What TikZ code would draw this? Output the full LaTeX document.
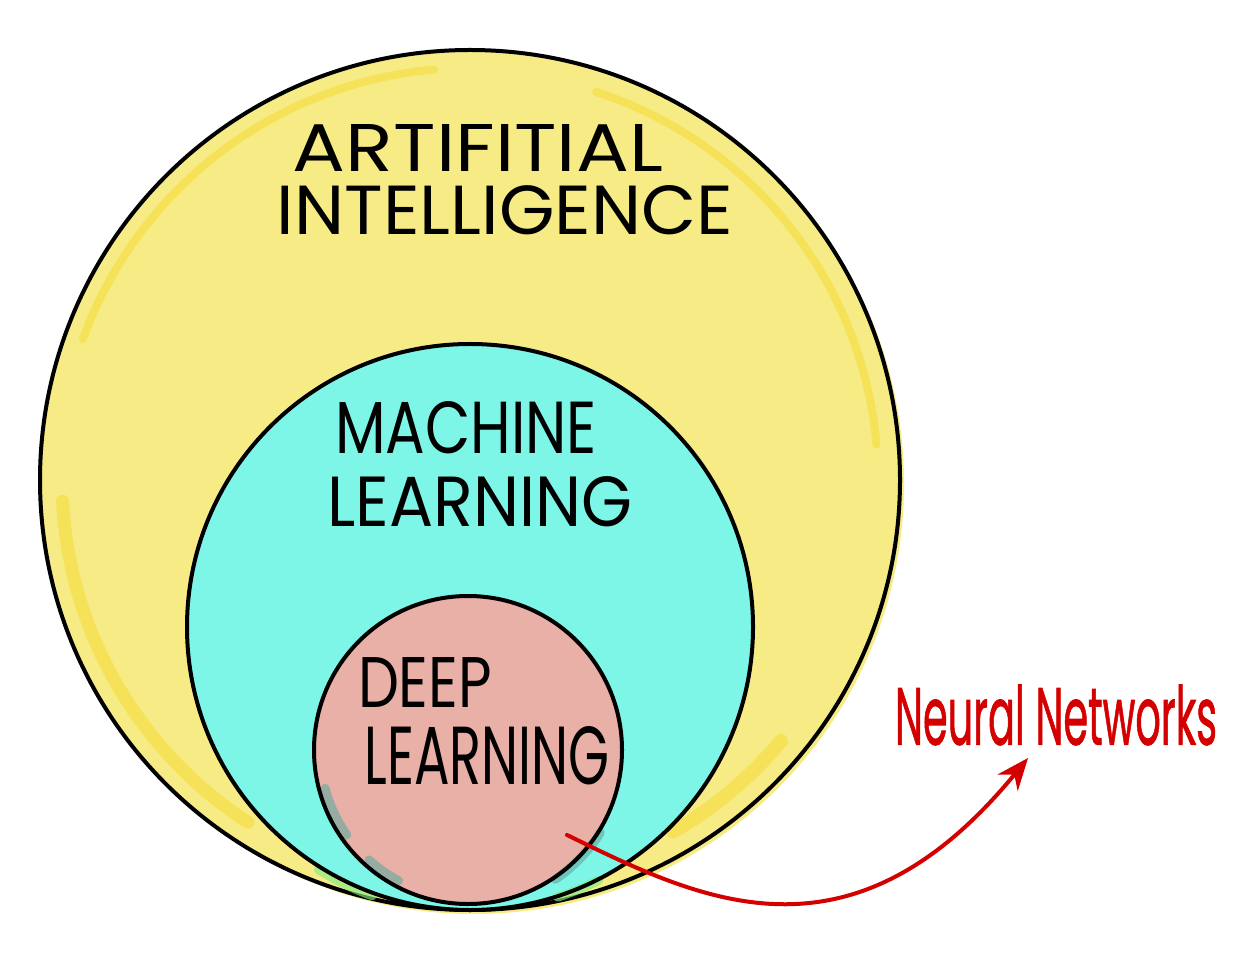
\documentclass[tikz,border=0pt]{standalone}
\usepackage{fontspec}
\usepackage{graphicx}
\usetikzlibrary{arrows.meta}
\newfontfamily\handfont{Poppins}
\newfontfamily\handboldfont[FakeBold=1.2]{Poppins}
\newcommand{\fitlab}[3]{\resizebox{#1}{#2}{\handfont #3}}
\newcommand{\fitredlab}[3]{\resizebox{#1}{#2}{\handboldfont #3}}
\definecolor{aiyellow}{HTML}{F7EB85}
\definecolor{aistreak}{HTML}{F6E04A}
\definecolor{mlcyan}{HTML}{7DF6E8}
\definecolor{dlpink}{HTML}{E8B0A6}
\definecolor{tealshade}{HTML}{69AAA0}
\definecolor{greenshade}{HTML}{82EB82}
\definecolor{nnred}{HTML}{D40000}
\tikzset{
  outline/.style={draw=black, line width=0.4mm},
  streak/.style={aistreak, line width=#1, line cap=round, opacity=0.75},
  shade/.style={#1, line width=0.9mm, line cap=round, opacity=0.65},
  lab/.style={inner sep=0pt, outer sep=0pt, text=black},
  redlab/.style={inner sep=0pt, outer sep=0pt, text=nnred},
  redarrow/.style={draw=nnred, line width=0.4mm, line cap=round,
    -{Stealth[length=3.2mm, width=2.6mm]}}
}
\begin{document}
\begin{tikzpicture}[x=0.1mm, y=-0.1mm]
\useasboundingbox (0,0) rectangle (1235,967);
% Artificial intelligence circle
\fill[aiyellow] (474,484) circle[radius=430];
\fill[aiyellow] (470,480) circle[radius=430];
\draw[streak=0.8mm] (470,480) ++(-95:412) arc[start angle=-95, end angle=-160, radius=412];
\draw[streak=0.8mm] (470,480) ++(-5:408) arc[start angle=-5, end angle=-72, radius=408];
\draw[streak=1.3mm] (470,480) ++(-183:408) arc[start angle=-183, end angle=-237, radius=408];
\draw[streak=1.4mm] (470,480) ++(60:406) arc[start angle=60, end angle=40, radius=406];
\draw[outline] (470,480) circle[radius=430];
% Machine learning circle
\fill[mlcyan] (470,627) circle[radius=283];
\draw[shade=greenshade] (470,627) ++(-238:286) arc[start angle=-238, end angle=-250, radius=286];
\draw[shade=greenshade] (470,627) ++(63:284) arc[start angle=63, end angle=72, radius=284];
\draw[outline] (470,627) circle[radius=283];
% Deep learning circle
\fill[dlpink] (468,750) circle[radius=154];
\draw[shade=tealshade] (468,750) ++(-195:148) arc[start angle=-195, end angle=-215, radius=148];
\draw[shade=tealshade] (468,750) ++(-228:148) arc[start angle=-228, end angle=-242, radius=148];
\draw[shade=tealshade] (468,750) ++(32:156) arc[start angle=32, end angle=56, radius=156];
\draw[outline] (468,750) circle[radius=154];
% labels
\node[lab] (ai1) at (478,148) {\fitlab{37mm}{4.7mm}{ARTIFITIAL}};
\node[lab] (ai2) at (505,210) {\fitlab{45.6mm}{4.9mm}{INTELLIGENCE}};
\node[lab] (ml1) at (466,428) {\fitlab{26.2mm}{5.2mm}{MACHINE}};
\node[lab] (ml2) at (480,502) {\fitlab{30.5mm}{5mm}{LEARNING}};
\node[lab] (dl1) at (425,682) {\fitlab{13.4mm}{5mm}{DEEP}};
\node[lab] (dl2) at (487,756) {\fitlab{24.5mm}{5.8mm}{LEARNING}};
\node[redlab] (nn) at (1056,715) {\fitredlab{32.2mm}{6mm}{Neural Networks}};
% connector
\coordinate (nnstart) at (567,835);
\coordinate (nnend) at (1028,758);
\draw[redarrow] (nnstart) .. controls (700,900) and (850,975) .. (nnend);
\end{tikzpicture}
\end{document}
